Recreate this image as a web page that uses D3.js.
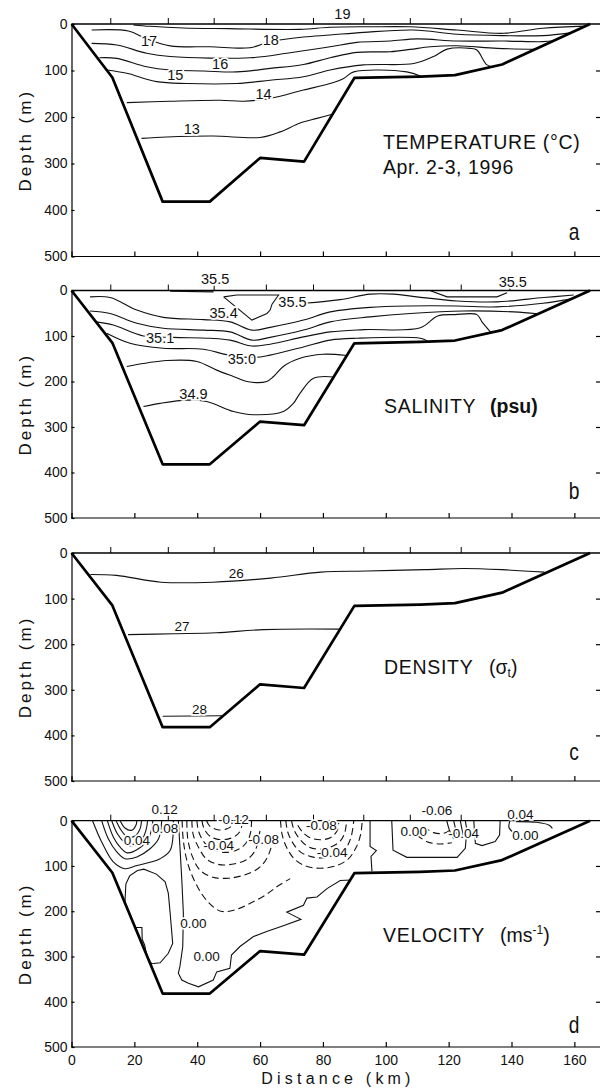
<!DOCTYPE html>
<html><head><meta charset="utf-8">
<script src="https://cdn.jsdelivr.net/npm/d3@7"></script>
<style>body{margin:0;background:#fff}svg{display:block}</style>
</head><body>
<svg id="c" width="600" height="1089"></svg>
<script>
// ---------------- DATA ----------------
const distanceTicks = [0,20,40,60,80,100,120,140,160];
const depthTicks = [0,100,200,300,400,500];
const rightTicks = [100,200,300,400];
const bathymetry = [[0,0],[13,115],[29,382],[44,382],[60,288],[74,296],[90,116],[111,113],[122,110],[137,87],[165,0]];
const stations = [12.5,30.8,45.4,62,77,93,107.8,124,139.5];

// Temperature isotherms (km, depth m)
const temp19 = [[19.7,2],[25,5],[35.6,8.6],[50,10],[72.7,11.5],[82.3,7],[95,6],[107.8,6],[122.7,13],[137.5,20],[150,9],[163.5,4.5]];
const temp18 = [[6.4,13],[18.1,15],[23.9,32],[31.4,47],[44.1,49],[56.8,51],[63.2,38],[73.8,28],[82.3,23.7],[93,18],[108.9,13],[122.7,22],[137.5,25],[150,25],[158.8,19]];
const temp17 = [[6.4,41.7],[14.4,45],[23.9,63],[31.4,70],[56.8,72.6],[68.5,63],[82.3,49],[90.8,39.5],[101.4,36.6],[110,32],[122.7,36.6],[137.5,36.6],[150,38],[153.5,36]];
const temp16 = [[8.9,72.6],[14.4,74],[23.9,92],[31.4,99],[42,101],[52.6,103],[63.2,95.5],[73.8,87],[82.3,72.6],[90.8,61],[101.4,59.6],[107.8,54.6],[114.2,48.9],[122.7,46.7],[135.4,52.4],[148,54.5]];
const temp15 = [[11.2,99],[17.6,106],[27.1,124],[36.7,128],[52.6,128],[63.2,121],[73.8,113.5],[82.3,99],[92.9,88],[108.9,85],[115.2,70],[119.5,54],[126.9,52.4],[129,56],[132.2,88],[134.4,92]];
const temp14 = [[17.6,169],[31.4,166],[47.3,164],[54.7,166],[63.2,160],[73.8,142],[82.3,128],[86.6,117],[89.8,103],[106.7,103],[111.5,113.5]];
const temp13 = [[22.3,246],[30.3,243],[45.1,241],[60,244],[66.4,232],[72.7,213],[78.1,203],[83,194]];
const tempLabels = [["19",86.2,-22],["17",24.7,36],["18",63.4,34.5],["16",47.3,85],["15",33,110],["14",61.1,149],["13",38.3,225]];

// Salinity isohalines
const sal355a = [[31.4,1.5],[45.2,3]];
const sal355lens = [[48.4,14],[52.6,10],[65.9,10],[63.8,30],[63.2,43],[62.2,50.5],[57.4,65],[48.4,14]];
const sal355b = [[114,0],[119.5,14],[135.4,14],[138.6,5]];
const salTop = [[74,28],[85.5,20],[95,8],[102.5,8],[109.9,14],[122.7,23],[135.4,25],[150.3,15.4],[159.8,10]];
const salA = [[5.9,14],[12.3,15.4],[20.8,43],[29.2,59],[42,64],[50.5,69],[57.4,87],[63.2,81],[73.8,65],[82.3,47],[95,37],[107.8,34],[122.7,34],[135.4,36],[150,28],[158.7,19]];
const salB = [[5.9,45],[12.3,50.5],[20.8,72],[29.2,83],[42,87],[50.5,91],[57.4,109],[63.2,103],[73.8,87],[82.3,69],[95,58],[107.8,50.5],[124.8,45],[140.7,47],[148.2,51]];
const salC = [[7.8,69],[13.3,76],[22.9,100],[32.4,103],[44.1,105],[50.5,109],[57.4,122],[63.2,118],[73.8,102],[82.3,91],[92.9,86],[111,82],[116.5,56],[122,53],[129,53],[130.6,69],[133.3,91]];
const salD = [[11.2,94],[18.6,116],[29.2,127],[42,129],[50,142],[58.4,147],[63.2,142],[73.8,124],[82.3,109],[90.8,105],[111,105],[113.2,111]];
const salE = [[17.6,167],[30.3,154],[39.9,156],[46.2,175],[51.5,189],[55.8,200],[62.1,200],[64.3,189],[67.4,167],[72.7,149],[80,140],[87.5,143]];
const salF = [[22.9,255],[28.2,248],[36.7,241],[43,244],[51.5,266],[57.9,273],[67.4,266],[70.6,248],[72.7,226],[77,193],[83.3,190]];
const salLabels = [["35.5",45.7,-26],["35.5",70.3,25],["35.4",48.4,48],["35.1",28.2,103],["35.0",54.2,151],["34.9",38.8,226],["35.5",140.4,-19]];

// Density (sigma-t)
const dens26 = [[6,47],[14.3,49],[28.5,64],[45,64],[63.4,55],[79.3,42],[94,39.5],[112.4,36.5],[124.7,34],[137,36.5],[150.5,42]];
const dens27 = [[18,179],[32.7,177],[46,175],[61,168],[85.5,167]];
const dens28 = [[29,358],[48,357]];
const densLabels = [["26",52.4,44],["27",35.2,161],["28",40.7,343]];

// Velocity: positive (solid) core
const velPos0 = [[6.7,0],[9.6,47],[13.3,91],[17,106],[20.8,99],[28.2,84],[31.4,65.5],[32.4,0]];
const velPos1 = [[9.6,0],[11.7,40],[14.4,69],[17,84],[20.8,80],[25,62],[27.7,40],[28.7,0]];
const velPos2 = [[11.4,0],[13.3,36],[15.4,58],[17.8,71],[21.3,62],[24.5,40],[25.9,0]];
const velPos3 = [[12.8,0],[14.6,29],[16.7,47],[18.8,56],[22,46],[23.7,21],[24.2,0]];
const velPos4 = [[14.2,0],[15.8,21],[17.8,36],[20.2,34],[21.8,18],[22.3,0]];
const velPos5 = [[15.5,0],[17,16],[19.2,21],[20.5,10],[20.8,0]];
const velLens = [[17,182],[17.3,140],[18.5,122],[21,110],[23,107],[27,118],[29.8,135],[30.8,160],[31.4,205],[32.2,271],[30.8,293],[28.2,314],[25.5,316],[24,300],[23.3,275],[22.5,262],[22.4,236],[20.3,236]];
const velZero = [[34,0],[34.5,57],[35.1,131],[35.6,205],[35.4,278],[34.5,322],[34,337],[35.1,352],[37.2,359],[40.4,367],[45.1,352],[46.2,334],[50.4,326],[50.9,297],[53.6,278],[57.9,256],[62.1,245],[67.4,232],[73,218],[68.5,202],[73.8,187],[74.9,171],[78.1,168.6],[81.3,150],[85.5,132],[88.9,131]];
const velZero2 = [[95,0],[95,57],[97,66],[95.3,79],[95.6,112]];
// Velocity: negative (dashed) cores
const velNeg1 = [[35.2,0],[35.6,45],[37,95],[40,145],[43.5,180],[47.5,200],[52,197],[57,182],[62,163],[65.3,146],[69.6,128]];
const velNeg2 = [[36.7,0],[37,40],[38.5,80],[41,110],[45,125],[50,127],[55,120],[59.5,105],[62,85],[63.5,60]];
const velNeg3 = [[38.3,0],[38.7,30],[40.5,60],[43,85],[47,97],[52,95],[56,85],[58.5,65],[59.5,40],[60,20]];
const velNeg4 = [[39.9,0],[40.5,25],[42.5,50],[45.5,65],[49.5,70],[53.5,62],[56,45],[57,25],[57.3,0]];
const velNeg5 = [[41.5,0],[42.2,18],[44.2,35],[47.5,42],[51,38],[53.5,25],[54.5,0]];
const velNeg6 = [[43,0],[44,12],[46.5,20],[49.5,18],[51.5,8],[52,0]];
const velNeg7 = [[66.5,0],[67,30],[68.5,60],[71,85],[74.5,100],[79,105],[84,100],[88,85],[90.5,60],[92,30],[92.5,0]];
const velNeg8 = [[68.2,0],[68.8,25],[70.5,50],[73,70],[76.5,80],[80.5,82],[84.5,75],[87.5,58],[89,35],[89.8,0]];
const velNeg9 = [[70,0],[70.8,20],[72.8,42],[75.5,58],[79,63],[82.5,58],[85.5,45],[87,25],[87.5,0]];
const velNeg10 = [[72,10],[73.5,25],[76,38],[79.5,42],[82.5,37],[84.5,22],[85,5]];
const velNeg11 = [[109.9,31.6],[113.1,46.3],[117.3,51.5],[121,48.6]];
const velNeg12 = [[112,13.2],[115.2,26.4],[118.4,27.9],[120.5,20.6]];
// Velocity: eastern solid contours
const velEastU1 = [[101.9,0],[102.3,65],[106.7,81],[122.7,81],[125.3,61],[125.8,20.6],[125.3,0]];
const velEastU2 = [[128,0],[128.5,50],[130.6,55],[134.8,46],[136.2,31.6],[136.4,0]];
const velEastS1 = [[119.4,0],[120.3,22],[121.6,40.5]];
const velEastS2 = [[121.6,0],[122.6,29.8]];
const velEastS3 = [[123.7,0],[124.6,32]];
const velEastS4 = [[139.5,0],[139.2,15],[140.5,26]];
const velEastS5 = [[141.5,2],[148,3.5],[152,10],[153,17]];
const velLabels = [["0.12",29.6,-25],["0.08",29.8,16],["0.04",20.8,43],["-0.12",51.5,-4],["-0.04",46.8,54],["-0.08",61.1,40],
  ["-0.08",79.5,10],["-0.04",82.9,68.5],["0.00",38.8,227],["0.00",43,300],["-0.06",116.3,-23],["0.00",108.9,24],
  ["-0.04",124.8,28],["0.04",142.8,-14],["0.00",144.4,31.6]];

// ---------------- DRAWING ----------------
const FONT = "'Liberation Sans', Arial, Helvetica, sans-serif";
const svg = d3.select("#c");
const x = d3.scaleLinear().domain([0,168]).range([71.5,599.5]);

const panels = [
  {top:24, bottom:256.5, xlabels:false,
   lines:[{d:temp19},{d:temp18},{d:temp17},{d:temp16},{d:temp15},{d:temp14},{d:temp13}],
   labels:tempLabels, lfs:14.5},
  {top:290.5, bottom:518, xlabels:false,
   lines:[{d:sal355a},{d:sal355lens,lin:true},{d:sal355b,lin:true},{d:salTop},{d:salA},{d:salB},{d:salC},{d:salD},{d:salE},{d:salF}],
   labels:salLabels, lfs:14.5},
  {top:553, bottom:781, xlabels:false,
   lines:[{d:dens26},{d:dens27},{d:dens28}],
   labels:densLabels, lfs:13.5},
  {top:820.7, bottom:1047, xlabels:true,
   lines:[{d:velPos0},{d:velPos1},{d:velPos2},{d:velPos3},{d:velPos4},{d:velPos5},
          {d:velLens,lin:true},{d:velZero,lin:true},{d:velZero2,lin:true},
          {d:velNeg1,dash:true},{d:velNeg2,dash:true},{d:velNeg3,dash:true},{d:velNeg4,dash:true},{d:velNeg5,dash:true},{d:velNeg6,dash:true},
          {d:velNeg7,dash:true},{d:velNeg8,dash:true},{d:velNeg9,dash:true},{d:velNeg10,dash:true},{d:velNeg11,dash:true},{d:velNeg12,dash:true},
          {d:velEastU1,lin:true},{d:velEastU2,lin:true},{d:velEastS1},{d:velEastS2},{d:velEastS3},{d:velEastS4},{d:velEastS5}],
   labels:velLabels, lfs:13.5}
];

panels.forEach((p,i)=>{
  const y = d3.scaleLinear().domain([0,500]).range([p.top,p.bottom]);
  const g = svg.append("g");
  // contours
  p.lines.forEach(L=>{
    const gen = d3.line().x(d=>x(d[0])).y(d=>y(d[1]))
      .curve(L.lin ? d3.curveLinear : d3.curveCatmullRom.alpha(0.5));
    g.append("path").attr("d",gen(L.d)).attr("fill","none").attr("stroke","#111")
      .attr("stroke-width",1.1).attr("stroke-dasharray",L.dash?"7,4":null);
  });
  // bathymetry
  g.append("path").attr("d",d3.line().x(d=>x(d[0])).y(d=>y(d[1]))(bathymetry))
    .attr("fill","none").attr("stroke","#000").attr("stroke-width",2.7).attr("stroke-linejoin","round");
  // surface line
  g.append("line").attr("x1",x(0)).attr("x2",600).attr("y1",y(0)).attr("y2",y(0)).attr("stroke","#000").attr("stroke-width",1.3);
  // stations
  g.selectAll(".st").data(stations).join("line")
    .attr("x1",d=>x(d)).attr("x2",d=>x(d)).attr("y1",y(0)).attr("y2",y(0)-6).attr("stroke","#000").attr("stroke-width",1);
  // left axis
  const ay = g.append("g").attr("transform",`translate(${x(0)},0)`)
    .call(d3.axisLeft(y).tickValues(depthTicks).tickSizeInner(-3).tickSizeOuter(0).tickPadding(4));
  // right ticks
  const ar = g.append("g").attr("transform",`translate(600,0)`)
    .call(d3.axisRight(y).tickValues(rightTicks).tickSizeInner(-4).tickSizeOuter(0).tickFormat(""));
  ar.select(".domain").remove();
  // bottom axis
  const ab = g.append("g").attr("transform",`translate(0,${y(500)})`)
    .call(d3.axisBottom(x).tickValues(distanceTicks).tickSizeInner(-5).tickSizeOuter(0).tickPadding(8)
      .tickFormat(p.xlabels ? d3.format("d") : ""));
  [ay,ar,ab].forEach(a=>{
    a.attr("font-family",FONT).attr("font-size",14);
    a.selectAll("path,line").attr("stroke","#000").attr("stroke-width",1.2);
    a.selectAll("text").attr("fill","#111");
  });
  ab.select(".domain").attr("d",`M${x(0)},0H600`);
  // y title
  g.append("text").attr("transform",`translate(31,${(p.top+p.bottom)/2}) rotate(-90)`)
    .attr("text-anchor","middle").attr("font-family",FONT).attr("font-size",17)
    .attr("letter-spacing","3px").attr("fill","#111").text("Depth (m)");
  // contour labels
  g.selectAll(".lab").data(p.labels).join("text")
    .attr("x",d=>x(d[1])).attr("y",d=>y(d[2])).attr("dy","0.36em")
    .attr("text-anchor","middle").attr("font-family",FONT).attr("font-size",p.lfs)
    .attr("fill","#111").attr("stroke","#fff").attr("stroke-width",3.5).attr("paint-order","stroke")
    .text(d=>d[0]);
  p.g = g;
});

// panel titles
function title(g, xx, yy, parts){
  const t = g.append("text").attr("x",xx).attr("y",yy).attr("font-family",FONT).attr("font-size",19.5).attr("fill","#111");
  parts.forEach(pt=>{
    const s = t.append("tspan").text(pt.t);
    if(pt.w) s.attr("font-weight",pt.w);
    if(pt.fs) s.attr("font-size",pt.fs);
    if(pt.dy) s.attr("dy",pt.dy);
    if(pt.x!==undefined) s.attr("x",pt.x);
    if(pt.ls) s.attr("letter-spacing",pt.ls);
  });
  return t;
}
title(panels[0].g, 383, 149, [{t:"TEMPERATURE (°C)",ls:"0.7px"}]);
title(panels[0].g, 383, 174, [{t:"Apr. 2-3, 1996",ls:"0.6px"}]);
title(panels[1].g, 384, 413, [{t:"SALINITY",ls:"0.7px"},{t:"(psu)",w:"bold",x:490}]);
title(panels[2].g, 384, 674, [{t:"DENSITY",ls:"0.7px"},{t:"(σ",x:489},{t:"t",fs:12,dy:3},{t:")",dy:-3}]);
title(panels[3].g, 383, 942, [{t:"VELOCITY",ls:"0.7px"},{t:"(ms",x:500},{t:"-1",fs:12,dy:-8},{t:")",dy:8}]);

// panel letters
[["a",240],["b",499],["c",760],["d",1033]].forEach(([l,yy])=>{
  svg.append("text").attr("transform",`translate(574,${yy}) scale(0.8,1)`).attr("text-anchor","middle")
    .attr("font-family",FONT).attr("font-size",24).attr("fill","#111").text(l);
});

// x title
svg.append("text").attr("x",338).attr("y",1084).attr("text-anchor","middle").attr("font-family",FONT)
  .attr("font-size",16).attr("letter-spacing","4.2px").attr("fill","#111").text("Distance (km)");
</script>
</body></html>
